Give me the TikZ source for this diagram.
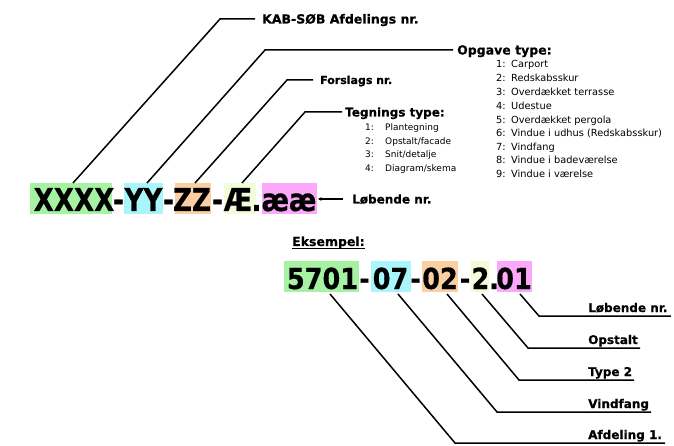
\documentclass[tikz,border=0pt]{standalone}
\usepackage{fontspec}
\setmainfont{DejaVu Sans}[BoldFont=DejaVu Sans Bold, BoldFeatures={FakeBold=0.6}]
\usetikzlibrary{arrows.meta}
\definecolor{cg}{HTML}{A6F2A2}
\definecolor{cc}{HTML}{A8F6FC}
\definecolor{co}{HTML}{FCCFA2}
\definecolor{cy}{HTML}{F3FCDA}
\definecolor{cp}{HTML}{FCA8FA}
\newcommand\bigrow[1]{\scalebox{0.83}[1]{\fontsize{31.5}{32}\selectfont\bfseries #1}}
\newcommand\exrow[1]{\scalebox{0.88}[1]{\fontsize{29}{30}\selectfont\bfseries #1}}
\begin{document}
\begin{tikzpicture}[x=1pt,y=-1pt,
  box/.style={inner sep=0pt, outer sep=0pt},
  big/.style={inner sep=0pt, anchor=base},
  lbl/.style={inner sep=0pt, anchor=base west, font=\bfseries\fontsize{12}{14}\selectfont},
  item/.style={inner sep=0pt, anchor=base west, font=\fontsize{9}{11}\selectfont},
  oitem/.style={inner sep=0pt, anchor=base west, font=\fontsize{9.8}{11}\selectfont},
  conn/.style={line width=1.5pt, line join=miter}]
\useasboundingbox (0,0) rectangle (674,446);
% ---------- top row boxes ----------
\fill[cg] (30,183) rectangle (112,214); \node[box] (b1) at (71,198.5) {};
\fill[cc] (124,183) rectangle (163,214); \node[box] (b2) at (143.5,198.5) {};
\fill[co] (175,183) rectangle (211,214); \node[box] (b3) at (193,198.5) {};
\fill[cy] (224,183) rectangle (256,214); \node[box] (b4) at (240,198.5) {};
\fill[cp] (262,183) rectangle (317,214); \node[box] (b5) at (289.5,198.5) {};
\coordinate (b1n) at (73,183);
\coordinate (b2n) at (147,183);
\coordinate (b3n) at (195,183);
\coordinate (b4n) at (242,183);
\coordinate (b5e) at (318,199);
% top row text
\node[big] (t1) at (74,211) {\bigrow{XXXX}};
\node[big] (h1) at (118.5,211) {\bigrow{-}};
\node[big] (t2) at (143.5,211) {\bigrow{YY}};
\node[big] (h2) at (168.5,211) {\bigrow{-}};
\node[big] (t3) at (192,211) {\bigrow{ZZ}};
\node[big] (h3) at (217.5,211) {\bigrow{-}};
\node[big] (t4) at (238,211) {\bigrow{Æ}};
\node[big] (d1) at (256.5,211) {\bigrow{.}};
\node[big] (t5) at (289,211) {\bigrow{ææ}};
% ---------- top labels ----------
\node[lbl, font=\bfseries\fontsize{12.5}{14}\selectfont] (kab) at (262,23.5) {KAB-SØB Afdelings nr.};
\node[lbl, font=\bfseries\fontsize{12.5}{14}\selectfont] (opg) at (457,54.5) {Opgave type:};
\node[lbl, font=\bfseries\fontsize{11}{13}\selectfont] (for) at (320,84) {Forslags nr.};
\node[lbl] (teg) at (345,116.5) {Tegnings type:};
\node[lbl] (lob) at (352,203.5) {Løbende nr.};
\coordinate (kabC) at (220,19);
\coordinate (opgC) at (265,50);
\coordinate (forC) at (287,80);
\coordinate (tegC) at (305,112);
\draw[conn] (b1n) -- (kabC) -- ([xshift=-7pt]kab.west |- kabC);
\draw[conn] (b2n) -- (opgC) -- ([xshift=-4pt]opg.west |- opgC);
\draw[conn] (b3n) -- (forC) -- ([xshift=-7pt]for.west |- forC);
\draw[conn] (b4n) -- (tegC) -- ([xshift=-3pt]teg.west |- tegC);
\draw[line width=1.5pt, -{Stealth[length=3.5pt,width=3.5pt]}] ([xshift=-9pt]lob.west |- b5e) -- (b5e);
% Tegnings list
\node[item] (tn1) at (365,130.5) {1:}; \node[item] (tt1) at (385,130.5) {Plantegning};
\node[item] (tn2) at (365,144.5) {2:}; \node[item] (tt2) at (385,144.5) {Opstalt/facade};
\node[item] (tn3) at (365,158) {3:}; \node[item] (tt3) at (385,158) {Snit/detalje};
\node[item] (tn4) at (365,171.5) {4:}; \node[item] (tt4) at (385,171.5) {Diagram/skema};
% Opgave list
\node[oitem] (on1) at (496,67.5) {1:}; \node[oitem] (ot1) at (511,67.5) {Carport};
\node[oitem] (on2) at (496,81.5) {2:}; \node[oitem] (ot2) at (511,81.5) {Redskabsskur};
\node[oitem] (on3) at (496,95.5) {3:}; \node[oitem] (ot3) at (511,95.5) {Overdækket terrasse};
\node[oitem] (on4) at (496,109.5) {4:}; \node[oitem] (ot4) at (511,109.5) {Udestue};
\node[oitem] (on5) at (496,123.5) {5:}; \node[oitem] (ot5) at (511,123.5) {Overdækket pergola};
\node[oitem] (on6) at (496,136.5) {6:}; \node[oitem] (ot6) at (511,136.5) {Vindue i udhus (Redskabsskur)};
\node[oitem] (on7) at (496,150.5) {7:}; \node[oitem] (ot7) at (511,150.5) {Vindfang};
\node[oitem] (on8) at (496,163.5) {8:}; \node[oitem] (ot8) at (511,163.5) {Vindue i badeværelse};
\node[oitem] (on9) at (496,177.5) {9:}; \node[oitem] (ot9) at (511,177.5) {Vindue i værelse};
% ---------- example ----------
\node[lbl, font=\bfseries\fontsize{12.5}{14}\selectfont] (eks) at (292,246) {Eksempel:};
\draw[line width=1.2pt] ([yshift=-2.5pt]eks.base west) -- ([yshift=-2.5pt]eks.base east);
\fill[cg] (284,261) rectangle (359,292); \node[box] (e1) at (321.5,276.5) {};
\fill[cc] (371,261) rectangle (411,292); \node[box] (e2) at (391,276.5) {};
\fill[co] (422,261) rectangle (458,292); \node[box] (e3) at (440,276.5) {};
\fill[cy] (471,261) rectangle (489,292); \node[box] (e4) at (480,276.5) {};
\fill[cp] (497,261) rectangle (532,292); \node[box] (e5) at (514.5,276.5) {};
\node[big] (x1) at (322.5,289) {\exrow{5701}};
\node[big] (xh1) at (364.5,289) {\exrow{-}};
\node[big] (x2) at (390.5,289) {\exrow{07}};
\node[big] (xh2) at (415.5,289) {\exrow{-}};
\node[big] (x3) at (440,289) {\exrow{02}};
\node[big] (xh3) at (465,289) {\exrow{-}};
\node[big] (x4) at (480.5,289) {\exrow{2}};
\node[big] (xd) at (494,289) {\exrow{.}};
\node[big] (x5) at (514,289) {\exrow{01}};
\coordinate (s1) at (330,294);
\coordinate (s2) at (398,294);
\coordinate (s3) at (447,294);
\coordinate (s4) at (482,294);
\coordinate (s5) at (520,294);
\node[lbl] (l5) at (588,312) {Løbende nr.};
\node[lbl] (l4) at (588,344) {Opstalt};
\node[lbl] (l3) at (588,376) {Type 2};
\node[lbl] (l2) at (588,408) {Vindfang};
\node[lbl] (l1) at (588,439) {Afdeling 1.};
\coordinate (c5) at (539,316);
\coordinate (c4) at (528,348);
\coordinate (c3) at (519,380);
\coordinate (c2) at (497,412);
\coordinate (c1) at (455,443);
\draw[conn] (s5) -- (c5) -- ([xshift=3pt]l5.east |- c5);
\draw[conn] (s4) -- (c4) -- ([xshift=2pt]l4.east |- c4);
\draw[conn] (s3) -- (c3) -- ([xshift=2pt]l3.east |- c3);
\draw[conn] (s2) -- (c2) -- ([xshift=2pt]l2.east |- c2);
\draw[conn] (s1) -- (c1) -- ([xshift=3pt]l1.east |- c1);
\end{tikzpicture}
\end{document}
